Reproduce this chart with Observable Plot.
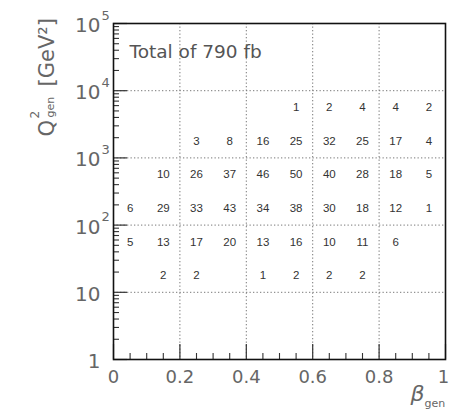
<!DOCTYPE html>
<html><head><meta charset="utf-8">
<script src="https://cdn.jsdelivr.net/npm/d3@7"></script>
<script src="https://cdn.jsdelivr.net/npm/@observablehq/plot@0.6"></script>
<style>body{margin:0;background:#fff}</style>
</head><body><div id="chart"></div>
<script>
// β_gen bin centres (10 bins of width 0.1)
const betaBins = [0.05, 0.15, 0.25, 0.35, 0.45, 0.55, 0.65, 0.75, 0.85, 0.95];
// Q²_gen bin centres (half-decade bins, log centres)
const q2Bins = [5623, 1778, 562, 178, 56, 18];
// event counts per cell, one row per Q² bin (null = empty)
const countsRow1 = [null, null, null, null, null, 1, 2, 4, 4, 2];
const countsRow2 = [null, null, 3, 8, 16, 25, 32, 25, 17, 4];
const countsRow3 = [null, 10, 26, 37, 46, 50, 40, 28, 18, 5];
const countsRow4 = [6, 29, 33, 43, 34, 38, 30, 18, 12, 1];
const countsRow5 = [5, 13, 17, 20, 13, 16, 10, 11, 6, null];
const countsRow6 = [null, 2, 2, null, 1, 2, 2, 2, null, null];
const countRows = [countsRow1, countsRow2, countsRow3, countsRow4, countsRow5, countsRow6];

const titleText = "Total of 790 fb";
const xTickValues = [0, 0.2, 0.4, 0.6, 0.8, 1];
const xTickLabels = ["0", "0.2", "0.4", "0.6", "0.8", "1"];
const xMinorTickValues = [0.05, 0.1, 0.15, 0.25, 0.3, 0.35, 0.45, 0.5, 0.55, 0.65, 0.7, 0.75, 0.85, 0.9, 0.95];
const xGridValues = [0.2, 0.4, 0.6, 0.8];
const yTickValues = [1, 10, 100, 1000, 10000, 100000];
const yTickBase = ["1", "10", "10", "10", "10", "10"];
const yTickExp = ["", "", "2", "3", "4", "5"];
const yGridValues = [10, 100, 1000, 10000];
const yMinorMantissas = [2, 3, 4, 5, 6, 7, 8, 9];
const yDecades = [1, 10, 100, 1000, 10000];

const yMinorTickValues = yDecades.flatMap(d => yMinorMantissas.map(m => m * d));
const cells = [];
countRows.forEach((row, r) => row.forEach((n, c) => {
  if (n != null) cells.push({beta: betaBins[c], q2: q2Bins[r], n: String(n)});
}));
const xLabelData = xTickValues.map((v, i) => ({v, t: xTickLabels[i]}));

const W = 449, H = 419, mL = 113, mR = 4, mT = 23, mB = 60;
const fw = W - mL - mR, fh = H - mT - mB;
const labelGray = "#666";

const chart = Plot.plot({
  width: W, height: H,
  marginLeft: mL, marginRight: mR, marginTop: mT, marginBottom: mB,
  style: {fontFamily: "DejaVu Sans", background: "#fff", overflow: "visible"},
  x: {domain: [0, 1], axis: null},
  y: {type: "log", domain: [1, 1e5], axis: null},
  marks: [
    Plot.ruleX(xGridValues, {x: d => d, stroke: "#777", strokeDasharray: "1.3,2.2", strokeWidth: 1}),
    Plot.ruleY(yGridValues, {y: d => d, stroke: "#777", strokeDasharray: "1.3,2.2", strokeWidth: 1}),
    Plot.tickX(xTickValues, {x: d => d, insetTop: fh - 15, stroke: "#333", strokeWidth: 1.2}),
    Plot.tickX(xMinorTickValues, {x: d => d, insetTop: fh - 6, stroke: "#333", strokeWidth: 1.1}),
    Plot.tickY(yTickValues, {y: d => d, insetRight: fw - 14, stroke: "#333", strokeWidth: 1.2}),
    Plot.tickY(yMinorTickValues, {y: d => d, insetRight: fw - 6, stroke: "#333", strokeWidth: 1.1}),
    Plot.frame({stroke: "#111", strokeWidth: 1.6}),
    Plot.text(cells, {x: "beta", y: "q2", text: "n", fontSize: 11.5, fill: "#333", fontFamily: "Liberation Sans"}),
    Plot.text([titleText], {frameAnchor: "top-left", textAnchor: "start", dx: 16, dy: 21, fontSize: 18.5, fill: "#555"}),
    // x tick labels
    Plot.text(xLabelData.slice(0, 5), {x: "v", text: "t", frameAnchor: "bottom", lineAnchor: "top", dy: 11, fontSize: 18, fill: labelGray}),
    Plot.text(xLabelData.slice(5), {x: "v", text: "t", frameAnchor: "bottom", lineAnchor: "top", dy: 11, dx: -2, fontSize: 18, fill: labelGray}),
    // y tick labels
    Plot.text(yTickValues, {y: d => d, text: (d, i) => yTickBase[i], frameAnchor: "left", textAnchor: "end", dx: -13, dy: 2, fontSize: 20, fill: labelGray}),
    Plot.text(yTickValues, {y: d => d, text: (d, i) => yTickExp[i], frameAnchor: "left", textAnchor: "start", dx: -12, dy: -8, fontSize: 13, fill: labelGray}),
    // x-axis title β_gen
    Plot.text(["β"], {frameAnchor: "bottom-right", textAnchor: "end", dx: -21, dy: 41, fontSize: 22, fontStyle: "italic", fill: labelGray}),
    Plot.text(["gen"], {frameAnchor: "bottom-right", textAnchor: "start", dx: -21, dy: 47, fontSize: 11, fill: labelGray}),
    // y-axis title Q²_gen [GeV²] (rotated)
    Plot.text(["Q"], {frameAnchor: "top-left", rotate: -90, textAnchor: "start", dx: -74, dy: 113, fontSize: 21, fill: labelGray}),
    Plot.text(["2"], {frameAnchor: "top-left", rotate: -90, textAnchor: "start", dx: -83, dy: 95, fontSize: 12, fill: labelGray}),
    Plot.text(["gen"], {frameAnchor: "top-left", rotate: -90, textAnchor: "start", dx: -67, dy: 94, fontSize: 11, fill: labelGray}),
    Plot.text(["[GeV²]"], {frameAnchor: "top-left", rotate: -90, textAnchor: "start", dx: -74, dy: 63, fontSize: 21, fill: labelGray})
  ]
});
document.getElementById("chart").appendChild(chart);
</script>
</body></html>
